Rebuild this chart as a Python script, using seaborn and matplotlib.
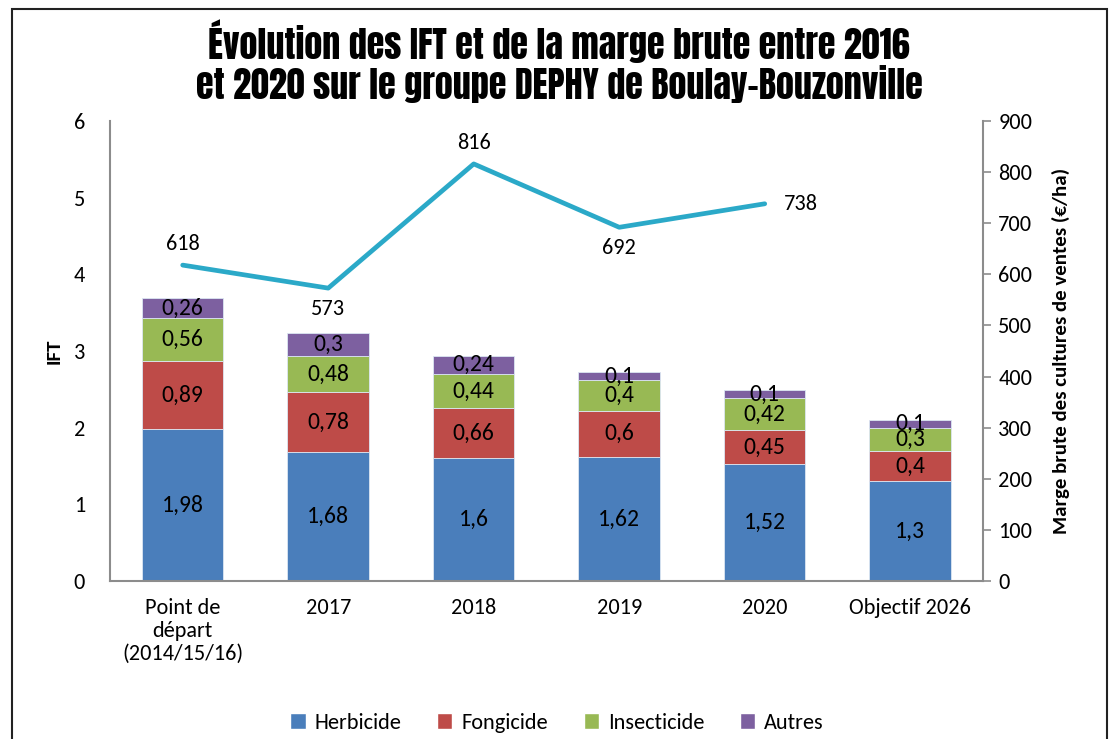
import numpy as np
import pandas as pd
import seaborn as sns
import matplotlib.pyplot as plt
from matplotlib.patches import Rectangle

# data
categories = ['Point de\ndépart\n(2014/15/16)', '2017', '2018', '2019', '2020', 'Objectif 2026']
herbicide = [1.98, 1.68, 1.6, 1.62, 1.52, 1.3]
fongicide = [0.89, 0.78, 0.66, 0.6, 0.45, 0.4]
insecticide = [0.56, 0.48, 0.44, 0.4, 0.42, 0.3]
autres = [0.26, 0.3, 0.24, 0.1, 0.1, 0.1]
marge_cat = ['Point de\ndépart\n(2014/15/16)', '2017', '2018', '2019', '2020']
marge = [618, 573, 816, 692, 738]
marge_pos = ['above', 'below', 'above', 'below', 'right']

series = {'Herbicide': herbicide, 'Fongicide': fongicide,
          'Insecticide': insecticide, 'Autres': autres}
colors = {'Herbicide': '#4A7EBB', 'Fongicide': '#BE4B48',
          'Insecticide': '#98B954', 'Autres': '#7D60A0'}
line_color = '#2BA9C8'
axis_gray = '#8C8C8C'

sns.set_theme(style='white')
plt.rcParams['font.family'] = ['Carlito', 'Lato', 'DejaVu Sans']
plt.rcParams.update({'text.color': 'black', 'axes.labelcolor': 'black',
                     'xtick.color': 'black', 'ytick.color': 'black'})

def fr(v):
    return f'{v:g}'.replace('.', ',')

fig = plt.figure(figsize=(11.14, 7.39), dpi=100)
ax = fig.add_axes([0.0987, 0.2138, 0.7837, 0.6225])

bottom = np.zeros(len(categories))
for name, vals in series.items():
    df = pd.DataFrame({'cat': categories, 'val': vals})
    sns.barplot(data=df, x='cat', y='val', order=categories, color=colors[name],
                bottom=bottom, width=0.56, ax=ax, edgecolor='#DCE6F2',
                linewidth=0.6, saturation=1)
    ax.bar_label(ax.containers[-1], labels=[fr(v) for v in vals],
                 label_type='center', fontsize=17, color='black')
    bottom = bottom + np.array(vals)

ax.set_xlim(-0.5, len(categories) - 0.5)
ax.set_ylim(0, 6)
ax.set_yticks(range(0, 7))
ax.set_xlabel('')
ax.set_ylabel('IFT', fontsize=15, fontweight='bold', labelpad=8)
ax.tick_params(axis='y', labelsize=16, length=0, pad=18)
ax.tick_params(axis='x', labelsize=16, length=0, pad=12)
for s in ['top', 'right']:
    ax.spines[s].set_visible(False)
for s in ['left', 'bottom']:
    ax.spines[s].set_color(axis_gray)
    ax.spines[s].set_linewidth(1.5)

ax2 = ax.twinx()
ldf = pd.DataFrame({'cat': marge_cat, 'marge': marge})
sns.lineplot(data=ldf, x='cat', y='marge', sort=False, color=line_color,
             linewidth=3.4, ax=ax2, legend=False)
ax2.set_ylim(0, 900)
ax2.set_yticks(range(0, 901, 100))
ax2.tick_params(axis='y', labelsize=16, direction='out', length=6, width=1.2,
                color=axis_gray, labelcolor='black', pad=5)
ax2.set_ylabel('Marge brute des cultures de ventes (€/ha)', fontsize=15,
               fontweight='bold', labelpad=14)
for s in ['top', 'left', 'bottom']:
    ax2.spines[s].set_visible(False)
ax2.spines['right'].set_color(axis_gray)
ax2.spines['right'].set_linewidth(1.5)
ax2.set_xlim(-0.5, len(categories) - 0.5)
ax2.grid(False)

for i, (v, p) in enumerate(zip(marge, marge_pos)):
    if p == 'above':
        ax2.annotate(str(v), (i, v), xytext=(0, 8), textcoords='offset points',
                     ha='center', va='bottom', fontsize=16)
    elif p == 'below':
        ax2.annotate(str(v), (i, v), xytext=(0, -8), textcoords='offset points',
                     ha='center', va='top', fontsize=16)
    else:
        ax2.annotate(str(v), (i, v), xytext=(14, 0), textcoords='offset points',
                     ha='left', va='center', fontsize=16)

handles = [Rectangle((0, 0), 1, 1, facecolor=colors[n]) for n in series]
fig.legend(handles, list(series.keys()), loc='center', ncol=4,
           bbox_to_anchor=(0.5, 0.022), frameon=False, fontsize=16,
           handlelength=0.7, handleheight=0.7, handletextpad=0.4,
           columnspacing=1.6)

fig.text(0.502, 0.917, 'Évolution des IFT et de la marge brute entre 2016\n'
         'et 2020 sur le groupe DEPHY de Boulay-Bouzonville',
         ha='center', va='center', fontsize=26, color='black',
         family=['Anton', 'Fjalla One', 'DejaVu Sans'], linespacing=1.05)

fig.patches.append(Rectangle((12 / 1114, -0.05), (1107 - 12) / 1114, 1.05 - 9 / 739,
                             transform=fig.transFigure, fill=False,
                             edgecolor='#222222', linewidth=1.5))

fig.savefig('out.png', dpi=100)
